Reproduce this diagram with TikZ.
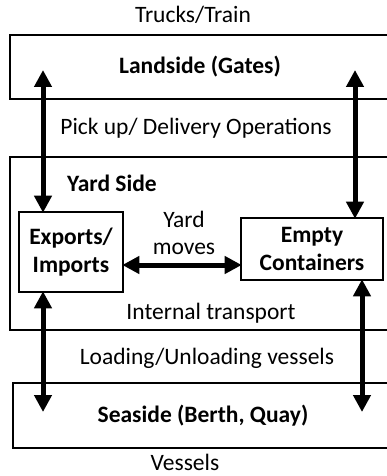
\documentclass[tikz,border=0pt]{standalone}
\usepackage{fontspec}
\setmainfont{Carlito}
\usetikzlibrary{arrows.meta}

\begin{document}
\begin{tikzpicture}[x=1pt,y=-1pt,
		every node/.style={font=\fontsize{23.5}{27}\selectfont},
		zone/.style={draw, line width=2.6pt, minimum width=380pt, inner sep=0pt},
		store/.style={draw, line width=2.6pt, align=center, inner sep=0pt, font=\fontsize{23.5}{28}\selectfont\bfseries},
		move/.style={line width=5pt, {Triangle[length=17pt,width=17pt]}-{Triangle[length=17pt,width=17pt]}, shorten <=-2pt, shorten >=-2pt}]
			\useasboundingbox (0,0) rectangle (387,476);
			\clip (0,0) rectangle (387,476);
			% the three zones
			\node[zone, minimum height=64pt, font=\fontsize{23.5}{27}\selectfont\bfseries] (land) at (200,67) {Landside (Gates)};
			\node[zone, minimum height=173pt] (yard) at (200,243.5) {};
			\node[zone, minimum height=65pt, font=\fontsize{23.5}{27}\selectfont\bfseries] (sea) at (203,415.5) {Seaside (Berth, Quay)};
			% the two stores in the yard
			\node[store, minimum width=104pt, minimum height=80pt] (exim) at (71,252) {Exports/\\Imports};
			\node[store, minimum width=142pt, minimum height=62pt] (empty) at (312,249) {Empty\\Containers};
			% labels
			\node (trucks) at (193,15) {Trucks/Train};
			\node (pick) at (196,128) {Pick up/ Delivery Operations};
			\node[font=\fontsize{23.5}{27}\selectfont\bfseries] (yardlbl) at (112,183) {Yard Side};
			\node[align=center] (ymoves) at (184,233) {Yard\\moves};
			\node (internal) at (211,313) {Internal transport};
			\node (loading) at (207,358) {Loading/Unloading vessels};
			\node (vessels) at (185,462) {Vessels};
			% free ends of the arrows
			\coordinate (lgateL) at (43,72);
			\coordinate (lgateR) at (355,72);
			\coordinate (lseaL) at (43,410);
			\coordinate (lseaR) at (362,410);
			\draw[move] (exim.north -| lgateL) -- (lgateL);
			\draw[move] (empty.north -| lgateR) -- (lgateR);
			\draw[move] (exim.south -| lseaL) -- (lseaL);
			\draw[move] (empty.south -| lseaR) -- (lseaR);
			\draw[move] (exim.east |- 0,265) -- (empty.west |- 0,265);
		\end{tikzpicture}
\end{document}
